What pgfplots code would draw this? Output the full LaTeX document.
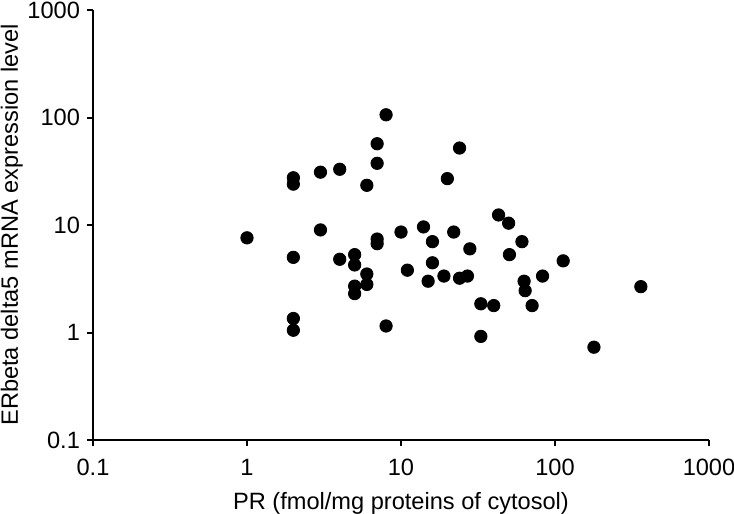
\documentclass[border=0pt]{standalone}
\usepackage{fontspec}
\setmainfont{Liberation Sans}
\usepackage{pgfplots}
\pgfplotsset{compat=1.18}
\begin{document}
\begin{tikzpicture}
\begin{axis}[
  scale only axis,
  width=308pt, height=215pt,
  xmode=log, ymode=log,
  xmin=0.1, xmax=1000, ymin=0.1, ymax=1000,
  axis x line=bottom, axis y line=left,
  axis line style={-, line width=1pt, black},
  xtick={0.1,1,10,100,1000}, xticklabels={0.1,1,10,100,1000},
  ytick={0.1,1,10,100,1000}, yticklabels={0.1,1,10,100,1000},
  xminorticks=false, yminorticks=false,
  tick align=outside, major tick length=3pt,
  tick style={line width=1pt, black},
  /pgf/number format/assume math mode=true,
  tick label style={font=\fontsize{11.8}{13}\selectfont},
  xticklabel style={yshift=-3pt},
  label style={font=\fontsize{11.8}{13}\selectfont},
  xlabel={PR (fmol/mg proteins of cytosol)},
  ylabel={ERbeta delta5 mRNA expression level},
  xlabel style={yshift=-1.5pt},
  ylabel style={yshift=-4.5pt},
  clip=false,
]
\addplot[only marks, mark=*, mark size=3.1pt, black] coordinates {
(1,7.6)
(2,27.5) (2,24) (2,5.0) (2,1.35) (2,1.05)
(3,31) (3,9.0)
(4,33) (4,4.8)
(5,5.3) (5,4.25) (5,2.7) (5,2.3)
(6,23.4) (6,3.5) (6,2.8)
(7,57) (7,37.5) (7,7.4) (7,6.7)
(8,106) (8,1.15)
(10,8.6)
(11,3.8)
(14,9.6)
(15,3.0)
(16,7.0) (16,4.45)
(19,3.35)
(20,27)
(22,8.6)
(24,52) (24,3.2)
(27,3.35)
(28,6.0)
(33,1.85) (33,0.92)
(40,1.78)
(43,12.4)
(50,10.4) (50.6,5.3)
(61,7.0)
(63,3.0) (64,2.45)
(71,1.78)
(83,3.35)
(113,4.64)
(179,0.73)
(361,2.67)
};
\end{axis}
\pgfresetboundingbox
\path[use as bounding box] ([shift={(-46.5pt,-37pt)}]current axis.south west) rectangle ([shift={(12.5pt,5pt)}]current axis.north east);
\end{tikzpicture}
\end{document}
